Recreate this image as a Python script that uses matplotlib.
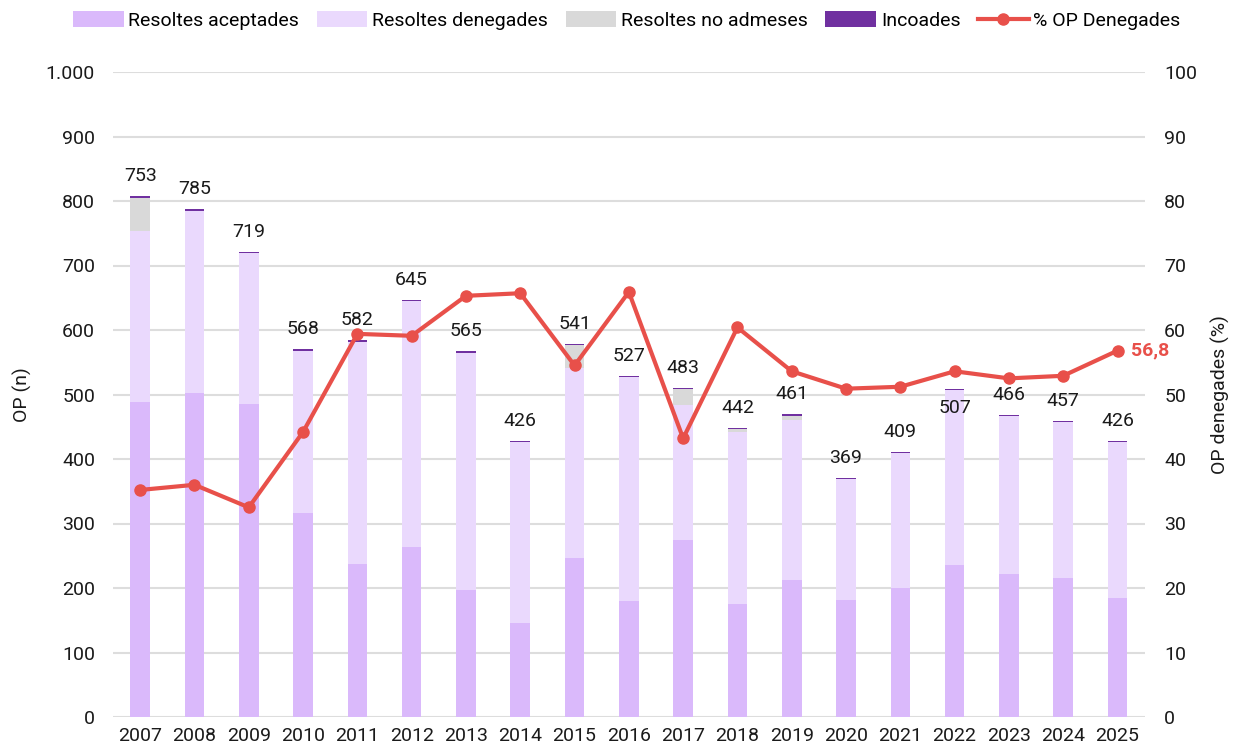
import matplotlib
matplotlib.use("Agg")
import matplotlib.pyplot as plt
from matplotlib.ticker import FuncFormatter
import numpy as np

plt.rcParams['font.family'] = ['Roboto', 'DejaVu Sans']

years = [str(y) for y in range(2007, 2026)]
aceptades = [489, 503, 485, 317, 237, 264, 197, 146, 246, 180, 274, 175, 213, 181, 200, 235, 221, 215, 184]
totals = [753, 785, 719, 568, 582, 645, 565, 426, 541, 527, 483, 442, 461, 369, 409, 507, 466, 457, 426]
denegades = [t - a for t, a in zip(totals, aceptades)]
no_admeses = [52, 0, 0, 0, 0, 0, 0, 0, 35, 0, 25, 4, 6, 0, 0, 0, 0, 0, 0]
incoades = [3, 2, 2, 2, 2, 2, 2, 2, 2, 2, 2, 2, 2, 2, 2, 2, 2, 2, 2]
pct_denegades = [35.2, 36.0, 32.5, 44.2, 59.4, 59.1, 65.3, 65.7, 54.5, 65.9, 43.2,
                 60.4, 53.6, 50.9, 51.2, 53.6, 52.5, 52.9, 56.8]

c_acc = '#DAB9FB'
c_den = '#EAD9FD'
c_noad = '#D9D9D9'
c_inc = '#7030A0'
c_line = '#E8504A'
txt = '#1a1a1a'
fs = 14

fig = plt.figure(figsize=(12.34, 7.5), dpi=100)
ax = fig.add_axes([0.0916, 0.044, 0.836, 0.860])
ax2 = ax.twinx()

x = np.arange(len(years))
w = 0.36
b1 = ax.bar(x, aceptades, w, color=c_acc, label='Resoltes aceptades', zorder=2)
b2 = ax.bar(x, denegades, w, bottom=aceptades, color=c_den, label='Resoltes denegades', zorder=2)
bot3 = np.array(aceptades) + np.array(denegades)
b3 = ax.bar(x, no_admeses, w, bottom=bot3, color=c_noad, label='Resoltes no admeses', zorder=2)
bot4 = bot3 + np.array(no_admeses)
b4 = ax.bar(x, incoades, w, bottom=bot4, color=c_inc, label='Incoades', zorder=2)

tops = bot4 + np.array(incoades)
for i, (xi, t, lab) in enumerate(zip(x, tops, totals)):
    dy = -14 if years[i] == '2022' else 14.5
    ax.annotate(str(lab), (xi, t), xytext=(0, dy), textcoords='offset points',
                ha='center', va='center', fontsize=fs, color=txt, zorder=3)

ax.set_xlim(-0.5, 18.5)
ax.set_ylim(0, 1000)
ax.set_yticks(range(0, 1001, 100))
ax.yaxis.set_major_formatter(FuncFormatter(lambda v, p: f"{int(v):,}".replace(',', '.')))
ax.set_xticks(x)
ax.set_xticklabels(years)
ax.grid(axis='y', color='#DDDDDD', linewidth=1.5, zorder=0)
ax.set_axisbelow(True)
for s in ax.spines.values():
    s.set_visible(False)
for s in ax2.spines.values():
    s.set_visible(False)
ax.tick_params(axis='both', length=0, labelsize=fs, colors=txt)
ax.tick_params(axis='y', pad=13)
ax.tick_params(axis='x', pad=7)
ax.set_ylabel('OP (n)', fontsize=fs, color=txt, labelpad=10)

ln, = ax2.plot(x, pct_denegades, color=c_line, linewidth=3, marker='o', markersize=8,
               label='% OP Denegades', zorder=5)
ax2.set_ylim(0, 100)
ax2.set_yticks(range(0, 101, 10))
ax2.tick_params(axis='y', length=0, labelsize=fs, colors=txt, pad=14)
ax2.set_ylabel('OP denegades (%)', fontsize=fs, color=txt, labelpad=10)
ax2.annotate(f"{pct_denegades[-1]:.1f}".replace('.', ','), (x[-1], pct_denegades[-1]),
             xytext=(10, 0), textcoords='offset points', ha='left', va='center',
             fontsize=fs, fontweight='bold', color=c_line)

fig.legend(handles=[b1, b2, b3, b4, ln], loc='upper center', bbox_to_anchor=(0.508, 1.008),
           ncol=5, frameon=False, fontsize=fs, handlelength=2.6, handleheight=0.85,
           columnspacing=0.9, handletextpad=0.25)

fig.savefig('out.png', dpi=100)
